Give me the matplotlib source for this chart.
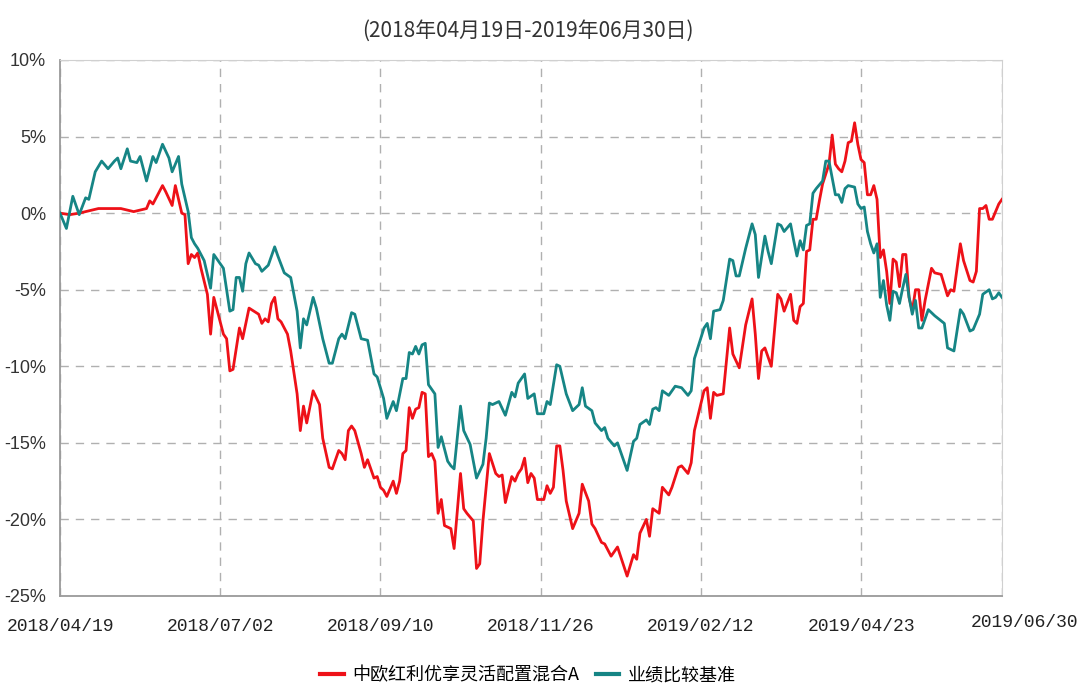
import matplotlib
matplotlib.use('Agg')
import matplotlib.pyplot as plt
from matplotlib.ticker import FuncFormatter
from matplotlib.transforms import ScaledTranslation

plt.rcParams['font.family'] = ['Noto Sans CJK SC', 'DejaVu Sans']

title = '(2018年04月19日-2019年06月30日)'
fund_name = '中欧红利优享灵活配置混合A'
bench_name = '业绩比较基准'
tick_days = [0, 50, 100, 150, 200, 250, 294]
tick_labels = ['2018/04/19', '2018/07/02', '2018/09/10', '2018/11/26',
               '2019/02/12', '2019/04/23', '2019/06/30']

# trading day index / cumulative return (%)
fund_days = [0, 3, 6, 12, 19, 23, 27, 28, 29, 32, 33, 35, 36, 37, 38, 39, 40, 41, 42, 43,
             44, 46, 47, 48, 51, 52, 53, 54, 56, 57, 59, 62, 63, 64, 65, 66, 67, 68, 69, 71,
             72, 74, 75, 76, 77, 79, 81, 82, 84, 85, 87, 88, 89, 90, 91, 92, 94, 95, 96, 98,
             99, 100, 101, 102, 104, 105, 106, 107, 108, 109, 110, 111, 112, 113, 114, 115, 116, 117, 118, 119,
             120, 122, 123, 125, 126, 127, 129, 130, 131, 132, 134, 136, 137, 138, 139, 141, 142, 143, 144, 145,
             146, 147, 148, 149, 151, 152, 153, 154, 155, 156, 157, 158, 160, 162, 163, 165, 166, 167, 169, 170,
             172, 174, 177, 179, 180, 181, 183, 184, 185, 187, 188, 190, 191, 193, 194, 196, 197, 198, 201, 202,
             203, 204, 205, 207, 209, 210, 212, 214, 216, 217, 218, 219, 220, 222, 224, 225, 226, 228, 229, 230,
             231, 232, 233, 234, 235, 236, 237, 238, 240, 241, 242, 243, 244, 245, 246, 247, 248, 249, 250, 251,
             252, 253, 254, 255, 256, 257, 258, 259, 260, 261, 262, 263, 264, 265, 266, 267, 268, 269, 270, 272,
             273, 275, 277, 278, 279, 281, 282, 284, 285, 286, 287, 288, 289, 290, 291, 293, 294]
fund_ret = [0.0, -0.1, 0.0, 0.3, 0.3, 0.1, 0.3, 0.8, 0.6, 1.8, 1.4, 0.5, 1.8, 0.9, 0.0, -0.1, -3.3, -2.7, -2.9, -2.6,
            -3.6, -5.3, -7.9, -5.5, -7.9, -8.2, -10.3, -10.2, -7.5, -8.2, -6.2, -6.6, -7.2, -6.9, -7.1, -5.9, -5.5, -6.9, -7.1, -7.9,
            -9.0, -11.8, -14.2, -12.6, -13.7, -11.6, -12.5, -14.7, -16.6, -16.7, -15.5, -15.7, -16.1, -14.2, -13.9, -14.2, -15.7, -16.6, -16.1, -17.3,
            -17.2, -17.9, -18.1, -18.5, -17.5, -18.3, -17.5, -15.7, -15.5, -12.7, -13.4, -12.8, -12.7, -11.7, -11.8, -15.9, -15.7, -16.2, -19.6, -18.7,
            -20.4, -20.6, -21.9, -17.0, -19.3, -19.6, -20.1, -23.2, -22.9, -20.1, -15.7, -17.0, -17.2, -17.1, -18.9, -17.2, -17.5, -17.0, -16.7, -16.0,
            -17.6, -17.0, -17.3, -18.7, -18.7, -17.8, -18.3, -17.9, -15.2, -15.2, -16.8, -18.8, -20.6, -19.6, -17.7, -18.8, -20.3, -20.6, -21.5, -21.6,
            -22.4, -21.8, -23.7, -22.3, -22.6, -20.9, -20.0, -21.1, -19.3, -19.6, -17.9, -18.4, -17.9, -16.6, -16.5, -17.0, -16.3, -14.2, -11.6, -11.4,
            -13.4, -11.7, -11.9, -11.8, -7.5, -9.2, -10.1, -7.3, -5.6, -7.9, -10.8, -9.0, -8.8, -10.0, -5.3, -5.6, -6.4, -5.3, -7.0, -7.2,
            -6.1, -5.9, -2.5, -2.4, -0.4, -0.4, 0.8, 1.9, 3.2, 5.1, 3.2, 2.9, 2.7, 3.4, 4.6, 4.7, 5.9, 4.5, 3.5, 3.3,
            1.2, 1.2, 1.8, 0.9, -2.9, -2.4, -3.8, -5.9, -3.0, -3.2, -4.8, -2.7, -2.7, -5.5, -6.4, -5.0, -5.0, -7.0, -5.7, -3.6,
            -3.9, -4.0, -5.4, -5.0, -5.1, -2.0, -3.1, -4.4, -4.5, -3.8, 0.3, 0.3, 0.5, -0.4, -0.4, 0.6, 0.9]

bench_days = [0, 2, 4, 6, 8, 9, 11, 13, 15, 17, 18, 19, 21, 22, 24, 25, 27, 29, 30, 32,
              34, 35, 37, 38, 40, 41, 42, 43, 45, 47, 48, 51, 53, 54, 55, 56, 57, 58, 59, 61,
              62, 63, 65, 67, 68, 70, 72, 74, 75, 76, 77, 79, 80, 82, 84, 85, 87, 88, 89, 91,
              92, 94, 96, 98, 99, 101, 102, 104, 105, 107, 108, 109, 110, 111, 112, 113, 114, 115, 117, 118,
              119, 121, 122, 123, 125, 126, 128, 130, 132, 133, 134, 135, 137, 139, 141, 142, 143, 145, 146, 148,
              149, 151, 152, 153, 155, 156, 158, 160, 162, 163, 164, 166, 167, 169, 170, 171, 173, 174, 177, 179,
              180, 181, 183, 184, 185, 186, 187, 188, 190, 192, 194, 196, 197, 198, 201, 202, 203, 204, 206, 207,
              209, 210, 211, 212, 214, 216, 217, 218, 220, 221, 222, 224, 225, 226, 228, 229, 230, 231, 232, 233,
              234, 235, 236, 238, 239, 240, 242, 243, 244, 245, 246, 248, 249, 250, 251, 252, 253, 254, 255, 256,
              257, 258, 259, 260, 261, 262, 263, 264, 265, 266, 267, 268, 269, 271, 273, 276, 277, 279, 281, 282,
              284, 285, 287, 288, 290, 291, 292, 293, 294]
bench_ret = [0.0, -1.0, 1.1, -0.1, 1.0, 0.9, 2.7, 3.4, 2.9, 3.4, 3.6, 2.9, 4.2, 3.4, 3.3, 3.7, 2.1, 3.7, 3.3, 4.5,
             3.6, 2.7, 3.7, 1.9, 0.1, -1.6, -2.0, -2.3, -3.1, -4.9, -2.7, -3.6, -6.4, -6.3, -4.2, -4.2, -5.1, -3.3, -2.6, -3.3,
             -3.4, -3.8, -3.4, -2.2, -2.8, -3.9, -4.2, -6.4, -8.8, -6.9, -7.3, -5.5, -6.2, -8.2, -9.8, -9.8, -8.2, -7.9, -8.2, -6.5,
             -6.6, -8.2, -8.3, -10.5, -10.7, -12.1, -13.4, -12.3, -12.9, -10.8, -10.8, -9.1, -9.2, -8.7, -9.2, -8.6, -8.5, -11.2, -11.8, -15.3,
             -14.6, -16.2, -16.5, -16.7, -12.6, -14.2, -15.1, -17.3, -16.4, -14.7, -12.4, -12.5, -12.3, -13.2, -11.7, -12.0, -11.1, -10.5, -12.1, -11.8,
             -13.1, -13.1, -12.3, -12.5, -9.9, -10.0, -11.8, -12.9, -12.5, -11.4, -12.6, -12.9, -13.7, -14.2, -14.0, -14.7, -15.2, -15.0, -16.8, -14.9,
             -14.7, -13.8, -13.5, -13.8, -12.8, -12.7, -12.9, -11.6, -11.9, -11.3, -11.4, -11.9, -11.6, -9.5, -7.5, -7.2, -8.2, -6.4, -6.3, -5.7,
             -3.0, -3.1, -4.1, -4.1, -2.3, -0.7, -1.4, -4.2, -1.5, -2.5, -3.3, -0.7, -0.8, -1.2, -0.7, -1.8, -2.8, -1.8, -2.4, -0.8,
             -0.7, 1.3, 1.6, 2.1, 3.4, 3.4, 1.2, 1.2, 0.7, 1.6, 1.8, 1.7, 0.6, 0.3, 0.4, -1.2, -2.0, -2.6, -2.0, -5.5,
             -4.4, -6.0, -7.0, -5.1, -5.2, -5.9, -4.9, -4.0, -5.5, -6.6, -5.7, -7.5, -7.5, -6.3, -6.7, -7.2, -8.8, -9.0, -6.3, -6.6,
             -7.7, -7.6, -6.6, -5.3, -5.0, -5.6, -5.5, -5.2, -5.5]

fig = plt.figure(figsize=(10.78, 6.87), dpi=100)
ax = fig.add_axes([60 / 1078, 1 - 596 / 687, 942 / 1078, 536 / 687])

ax.plot(fund_days, fund_ret, color='#ee1118', lw=2.0, label=fund_name, zorder=3)
ax.plot(bench_days, bench_ret, color='#168585', lw=2.0, label=bench_name, zorder=3)

ax.set_xlim(0, 294)
ax.set_ylim(-25, 10)
ax.set_yticks([10, 5, 0, -5, -10, -15, -20, -25])
ax.yaxis.set_major_formatter(FuncFormatter(lambda v, p: f'{v:.0f}%'))
ax.set_xticks(tick_days)
ax.set_xticklabels(tick_labels, family=['Liberation Mono', 'DejaVu Sans Mono'], fontsize=13, color='#222222')
for lb in ax.get_yticklabels():
    lb.set_family(['Liberation Sans Narrow', 'Liberation Sans'])
    lb.set_fontsize(13)
    lb.set_color('#333333')
ax.tick_params(axis='both', length=0)
ax.tick_params(axis='y', pad=10)
ax.tick_params(axis='x', pad=16)

# last date label sits a bit right and up
last = ax.get_xticklabels()[-1]
last.set_transform(last.get_transform() + ScaledTranslation(0.23, 0.04, fig.dpi_scale_trans))

ax.grid(True, color='#b0b0b0', linestyle=(0, (6, 5)), linewidth=1.0)
for side in ['top', 'right']:
    ax.spines[side].set_color('#d0d0d0')
for side in ['left', 'bottom']:
    ax.spines[side].set_color('#9a9a9a')
    ax.spines[side].set_linewidth(1.3)

fig.text(0.49, 0.955, title, ha='center', va='center', fontsize=15, color='#333333')

leg = fig.legend(loc='lower center', bbox_to_anchor=(0.49, -0.02), ncol=2, frameon=False,
                 fontsize=13, handlelength=1.3, columnspacing=0.9, handletextpad=0.5)
for h in leg.get_lines():
    h.set_linewidth(3)

fig.savefig('out.png', dpi=100)
